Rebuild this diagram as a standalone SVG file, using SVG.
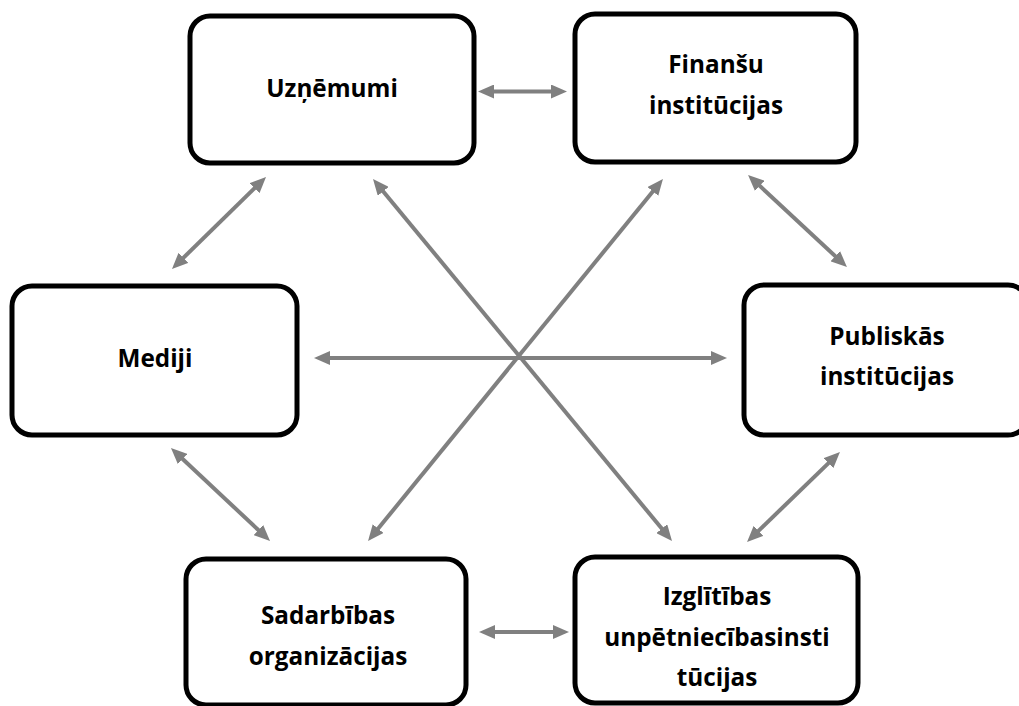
<svg xmlns="http://www.w3.org/2000/svg" width="1019" height="706" viewBox="0 0 1019 706">
<style>
.box{fill:#fff;stroke:#000;stroke-width:5}
.lbl{font-family:"Open Sans","Liberation Sans",sans-serif;font-weight:700;font-size:24.3px;fill:#000;text-anchor:middle}
.con{stroke:#808080;stroke-width:4;fill:none;marker-start:url(#ah);marker-end:url(#ah)}
</style>
<defs>
<marker id="ah" viewBox="0 0 16 14" refX="8" refY="7" markerWidth="16" markerHeight="14" markerUnits="userSpaceOnUse" orient="auto-start-reverse">
<path d="M0,0 L16,7 L0,14 z" fill="#808080"/>
</marker>
</defs>
<rect width="1019" height="706" fill="#fff"/>
<g id="connectors">
<line class="con" x1="486" y1="91.5" x2="559" y2="91.5"/>
<line class="con" x1="260.3" y1="182.6" x2="177.7" y2="263.4"/>
<line class="con" x1="378.1" y1="185.2" x2="666.9" y2="534.8"/>
<line class="con" x1="657.9" y1="185.2" x2="373.1" y2="534.8"/>
<line class="con" x1="753.9" y1="180.4" x2="841.1" y2="261.6"/>
<line class="con" x1="322" y1="358" x2="719" y2="358"/>
<line class="con" x1="176.8" y1="453.5" x2="264.2" y2="535.5"/>
<line class="con" x1="834.2" y1="457.6" x2="752.8" y2="536.4"/>
<line class="con" x1="487" y1="632" x2="561" y2="632"/>
</g>
<g id="uznemumi">
<rect class="box" x="190" y="16" width="284" height="147" rx="20"/>
<text class="lbl" x="332" y="97">Uzņēmumi</text>
</g>
<g id="finansu">
<rect class="box" x="575" y="14" width="281" height="148" rx="20"/>
<text class="lbl" x="716" y="73">Finanšu</text>
<text class="lbl" x="716" y="114">institūcijas</text>
</g>
<g id="mediji">
<rect class="box" x="12" y="286" width="285" height="149" rx="20"/>
<text class="lbl" x="155" y="367">Mediji</text>
</g>
<g id="publiskas">
<rect class="box" x="744" y="285" width="284" height="150" rx="20"/>
<text class="lbl" x="887" y="345">Publiskās</text>
<text class="lbl" x="887" y="385">institūcijas</text>
</g>
<g id="sadarbibas">
<rect class="box" x="186" y="559" width="280" height="146" rx="20"/>
<text class="lbl" x="328" y="624">Sadarbības</text>
<text class="lbl" x="328" y="665">organizācijas</text>
</g>
<g id="izglitibas">
<rect class="box" x="575" y="557" width="283" height="146" rx="20"/>
<text class="lbl" x="717" y="605">Izglītības</text>
<text class="lbl" x="717" y="646">unpētniecībasinsti</text>
<text class="lbl" x="717" y="686">tūcijas</text>
</g>
</svg>
